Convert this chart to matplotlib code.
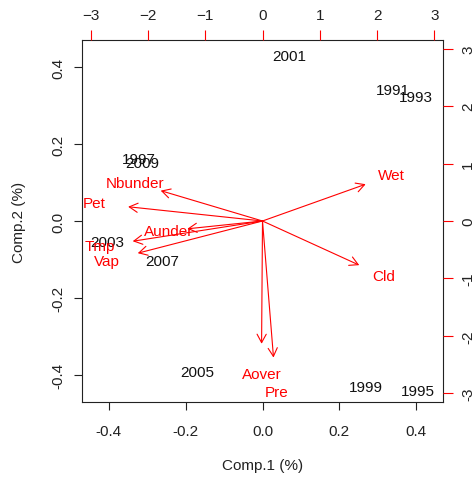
import numpy as np
import matplotlib.pyplot as plt

plt.rcParams['font.family'] = ['Liberation Sans', 'DejaVu Sans']
plt.rcParams['font.size'] = 11

# scores (years), primary scale
years = ['2001', '1991', '1993', '1997', '2009', '2003', '2007', '2005', '1999', '1995']
pc1 = [0.070, 0.340, 0.400, -0.322, -0.314, -0.405, -0.262, -0.171, 0.268, 0.405]
pc2 = [0.429, 0.340, 0.322, 0.161, 0.151, -0.055, -0.104, -0.392, -0.431, -0.442]

# loadings (variables), secondary scale
variables = ['Wet', 'Cld', 'Nbunder', 'Pet', 'Aunder', 'Tmp', 'Vap', 'Aover', 'Pre']
load1 = [2.25, 2.11, -2.22, -2.93, -1.64, -2.83, -2.72, -0.02, 0.24]
load2 = [0.80, -0.96, 0.66, 0.31, -0.17, -0.44, -0.70, -2.67, -2.97]

lim = 0.47
ratio = 6.70

fig = plt.figure(figsize=(4.74, 4.81), dpi=100)
pos = [82 / 474, 1 - 403 / 481, 361 / 474, 362 / 481]
ax = fig.add_axes(pos)
ax.set_xlim(-lim, lim)
ax.set_ylim(-lim, lim)
for x, y, t in zip(pc1, pc2, years):
    ax.text(x, y, t, ha='center', va='center', color='#111111')
ax.set_xticks([-0.4, -0.2, 0.0, 0.2, 0.4])
ax.set_yticks([-0.4, -0.2, 0.0, 0.2, 0.4])
ax.set_xticklabels(['-0.4', '-0.2', '0.0', '0.2', '0.4'])
ax.set_yticklabels(['-0.4', '-0.2', '0.0', '0.2', '0.4'], rotation=90, va='center')
ax.tick_params(direction='out', length=6, width=0.8, colors='#222222', pad=6)
ax.tick_params(axis='x', pad=10)
for s in ax.spines.values():
    s.set_linewidth(0.8)
    s.set_color('#222222')
ax.set_xlabel('Comp.1 (%)', labelpad=14, color='#222222')
ax.set_ylabel('Comp.2 (%)', labelpad=18, color='#222222')

# secondary axes for the loadings
ax2 = fig.add_axes(pos, frameon=False)
ax2.set_xlim(-lim * ratio, lim * ratio)
ax2.set_ylim(-lim * ratio, lim * ratio)
ax2.xaxis.tick_top()
ax2.yaxis.tick_right()
ax2.set_xticks(range(-3, 4))
ax2.set_yticks(range(-3, 4))
ax2.set_yticklabels([str(i) for i in range(-3, 4)], rotation=90, va='center')
ax2.tick_params(direction='out', length=7, width=0.8, color='red', labelcolor='#222222', pad=6)
ax2.patch.set_visible(False)

for x, y, t in zip(load1, load2, variables):
    ax2.annotate('', xy=(0.8 * x, 0.8 * y), xytext=(0, 0),
                 arrowprops=dict(arrowstyle='->,head_length=0.55,head_width=0.3',
                                 color='red', lw=0.8, shrinkA=0, shrinkB=0))
    ax2.text(x, y, t, ha='center', va='center', color='red')

fig.savefig('out.png', dpi=100)
